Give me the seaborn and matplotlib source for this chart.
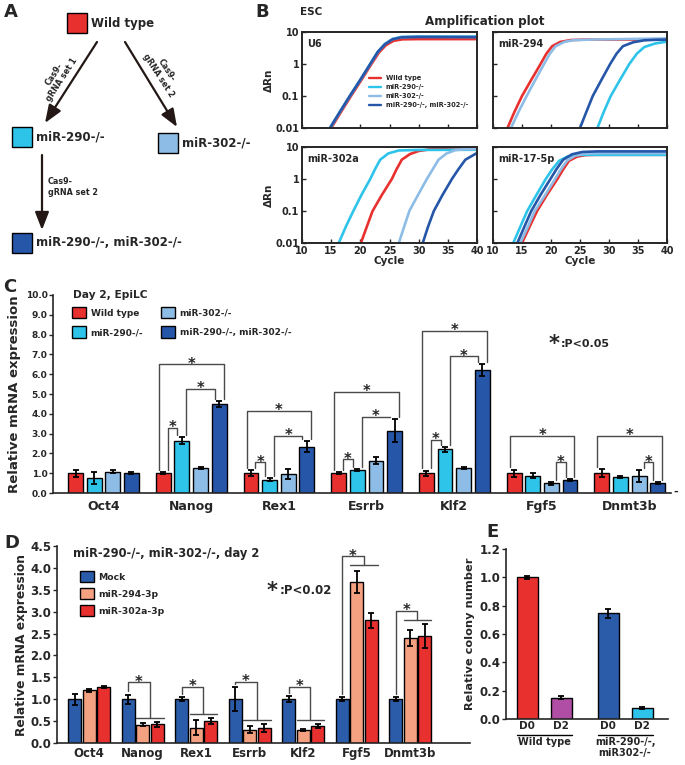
import numpy as np
import pandas as pd
import matplotlib
matplotlib.use("Agg")
import matplotlib.pyplot as plt
import matplotlib.transforms as mtransforms
from matplotlib.patches import Rectangle
from matplotlib.lines import Line2D
import seaborn as sns

sns.set_style("ticks")
plt.rcParams["font.family"] = ["DejaVu Sans"]
plt.rcParams["font.weight"] = "bold"
plt.rcParams["axes.labelweight"] = "bold"

W, H = 685, 765

# ---------------- data ----------------
genotypes = ["Wild type", "miR-290-/-", "miR-302-/-", "miR-290-/-, miR-302-/-"]
geno_colors = ["#e8312f", "#2ec4ea", "#8dbde6", "#2556a8"]

# B: amplification curves, (cycle, delta Rn); order = genotypes
amp_targets = ["U6", "miR-294", "miR-302a", "miR-17-5p"]
u6_cycles = [
    [15.0, 16.7, 18.4, 20.2, 21.9, 23.2, 24.4, 25.7, 27.2, 30.0, 40.0],
    [14.8, 16.5, 18.2, 20.0, 21.7, 23.0, 24.2, 25.5, 27.0, 30.0, 40.0],
    [14.8, 16.5, 18.2, 20.0, 21.7, 23.0, 24.2, 25.5, 27.0, 30.0, 40.0],
    [14.8, 16.5, 18.2, 20.0, 21.7, 23.0, 24.2, 25.5, 27.0, 30.0, 40.0],
]
u6_drn = [
    [0.01, 0.032, 0.1, 0.32, 1.0, 2.3, 3.9, 5.3, 5.9, 6.0, 6.0],
    [0.01, 0.032, 0.1, 0.32, 1.0, 2.4, 4.2, 6.0, 7.0, 7.3, 7.2],
    [0.01, 0.032, 0.1, 0.32, 1.0, 2.4, 4.2, 6.0, 6.9, 7.1, 7.0],
    [0.01, 0.032, 0.1, 0.32, 1.0, 2.4, 4.1, 5.9, 6.8, 7.0, 6.9],
]
m294_cycles = [
    [12.5, 13.7, 15.0, 16.6, 18.2, 19.2, 20.2, 21.6, 23.4, 26.0, 40.0],
    [28.0, 29.1, 30.3, 31.9, 33.5, 34.8, 36.1, 38.0, 40.0],
    [13.1, 14.4, 15.8, 17.3, 18.8, 19.8, 20.8, 22.3, 24.0, 27.0, 40.0],
    [25.0, 26.1, 27.2, 28.7, 30.2, 31.3, 32.4, 34.2, 36.1, 38.0, 40.0],
]
m294_drn = [
    [0.01, 0.032, 0.1, 0.32, 1.0, 2.1, 3.6, 4.9, 5.6, 5.8, 5.8],
    [0.01, 0.032, 0.1, 0.32, 1.0, 2.1, 3.4, 4.4, 5.0],
    [0.01, 0.032, 0.1, 0.32, 1.0, 2.1, 3.6, 4.9, 5.6, 5.8, 6.3],
    [0.01, 0.032, 0.1, 0.32, 1.0, 2.1, 3.6, 4.8, 5.5, 5.7, 5.8],
]
m302a_cycles = [
    [20.1, 21.1, 22.1, 23.7, 25.4, 26.2, 27.1, 28.5, 30.0, 33.4, 36.0, 40.0],
    [16.3, 17.5, 18.8, 20.2, 21.7, 22.5, 23.4, 24.8, 26.6, 30.0, 40.0],
    [26.6, 27.5, 28.4, 29.9, 31.4, 32.4, 33.4, 34.8, 36.3, 38.0, 40.0],
    [30.7, 31.6, 32.6, 34.1, 35.7, 36.8, 38.0, 40.0],
]
m302a_drn = [
    [0.01, 0.032, 0.1, 0.32, 1.0, 2.0, 4.0, 6.0, 7.5, 9.3, 9.7, 9.8],
    [0.01, 0.032, 0.1, 0.32, 1.0, 2.0, 4.0, 6.3, 7.8, 8.1, 8.2],
    [0.01, 0.032, 0.1, 0.32, 1.0, 2.0, 4.0, 6.3, 8.0, 8.5, 8.6],
    [0.01, 0.032, 0.1, 0.32, 1.0, 2.0, 4.0, 6.5],
]
m175p_cycles = [
    [15.0, 16.3, 17.6, 19.3, 21.1, 22.1, 23.1, 24.5, 26.0, 28.0, 40.0],
    [13.5, 14.7, 15.9, 17.5, 19.1, 20.2, 21.4, 22.8, 24.3, 26.0, 40.0],
    [14.7, 16.0, 17.2, 19.0, 20.7, 21.7, 22.8, 24.2, 25.8, 28.0, 40.0],
    [14.2, 15.4, 16.6, 18.2, 19.9, 21.0, 22.1, 23.6, 25.4, 28.0, 40.0],
]
m175p_drn = [
    [0.01, 0.032, 0.1, 0.32, 1.0, 2.0, 3.7, 5.0, 5.6, 5.7, 5.7],
    [0.01, 0.032, 0.1, 0.32, 1.0, 2.0, 3.7, 5.0, 5.6, 5.7, 5.7],
    [0.01, 0.032, 0.1, 0.32, 1.0, 2.0, 3.8, 5.4, 6.2, 6.4, 6.4],
    [0.01, 0.032, 0.1, 0.32, 1.0, 2.1, 4.0, 5.9, 7.0, 7.3, 7.3],
]

# C: day 2 EpiLC relative expression
c_genes = ["Oct4", "Nanog", "Rex1", "Esrrb", "Klf2", "Fgf5", "Dnmt3b"]
c_wt = [1.0, 1.0, 1.0, 1.0, 1.0, 1.0, 1.0]
c_290 = [0.75, 2.65, 0.68, 1.15, 2.2, 0.88, 0.8]
c_302 = [1.08, 1.28, 0.98, 1.62, 1.25, 0.48, 0.85]
c_dko = [1.0, 4.5, 2.33, 3.15, 6.2, 0.65, 0.5]
c_wt_err = [0.17, 0.06, 0.15, 0.06, 0.13, 0.18, 0.2]
c_290_err = [0.3, 0.18, 0.08, 0.06, 0.12, 0.12, 0.05]
c_302_err = [0.08, 0.05, 0.25, 0.18, 0.06, 0.06, 0.3]
c_dko_err = [0.06, 0.15, 0.28, 0.58, 0.3, 0.06, 0.05]
# (gene index, genotype a, genotype b, bracket height)
c_brackets = [(1, 0, 1, 3.3), (1, 1, 3, 5.25), (1, 0, 3, 6.5),
              (2, 0, 1, 1.55), (2, 1, 3, 2.9), (2, 0, 3, 4.15),
              (3, 0, 1, 1.7), (3, 1, 3, 3.85), (3, 0, 3, 5.1),
              (4, 0, 1, 2.7), (4, 1, 3, 6.9), (4, 0, 3, 8.2),
              (5, 2, 3, 1.55), (5, 0, 3, 2.9),
              (6, 2, 3, 1.55), (6, 0, 3, 2.9)]

# D: rescue with miRNA mimics
treatments = ["Mock", "miR-294-3p", "miR-302a-3p"]
treat_colors = ["#2a5caa", "#f4a182", "#e8312f"]
d_genes = ["Oct4", "Nanog", "Rex1", "Esrrb", "Klf2", "Fgf5", "Dnmt3b"]
d_mock = [1.0, 1.0, 1.0, 1.0, 1.0, 1.0, 1.0]
d_294 = [1.2, 0.42, 0.35, 0.3, 0.3, 3.67, 2.4]
d_302a = [1.28, 0.43, 0.5, 0.35, 0.39, 2.8, 2.45]
d_mock_err = [0.13, 0.1, 0.05, 0.27, 0.07, 0.04, 0.05]
d_294_err = [0.03, 0.04, 0.17, 0.08, 0.03, 0.25, 0.18]
d_302a_err = [0.03, 0.06, 0.07, 0.09, 0.05, 0.18, 0.27]
# (gene index, upper bracket height, lower bar height)
d_brackets = [(1, 1.39, 0.58), (2, 1.29, 0.66), (3, 1.40, 0.53), (4, 1.29, 0.53),
              (5, 4.27, 4.06), (6, 3.02, 2.81)]

# E: colony formation
e_samples = ["WT D0", "WT D2", "DKO D0", "DKO D2"]
e_ticklabels = ["D0", "D2", "D0", "D2"]
e_pos = [0.0, 1.0, 2.38, 3.38]
e_values = [1.0, 0.15, 0.745, 0.078]
e_err = [0.012, 0.01, 0.035, 0.01]
e_colors = ["#e8312f", "#b04ea6", "#2a5caa", "#2ec4ea"]
e_groups = ["Wild type", "miR-290-/-,\nmiR302-/-"]

# ---------------- figure ----------------
fig = plt.figure(figsize=(W / 100, H / 100), dpi=100)


def px_axes(l, t, r, b):
    return fig.add_axes([l / W, 1 - b / H, (r - l) / W, (b - t) / H])


def ftext(x, y, s, **kw):
    return fig.text(x / W, 1 - y / H, s, **kw)


for lab, x, y in [("A", 4, 12), ("B", 255, 12), ("C", 3, 287), ("D", 4, 543), ("E", 486, 532)]:
    ftext(x, y, lab, fontsize=13, fontweight="bold", va="center", ha="left")

# ---- A: scheme ----
axA = px_axes(0, 0, 230, 275)
axA.set_xlim(0, 230)
axA.set_ylim(275, 0)
axA.axis("off")
nodes = [(67, 13), (12, 127), (158, 133), (12, 233)]
for (x, y), c, lab in zip(nodes, geno_colors, genotypes):
    axA.add_patch(Rectangle((x, y), 20, 20, fc=c, ec="black", lw=1))
    axA.text(x + 24, y + 10, lab, va="center", ha="left", fontsize=8.5, fontweight="bold")
akw = dict(arrowstyle="-|>,head_length=0.9,head_width=0.35", color="#231815", lw=1.6,
           mutation_scale=12, shrinkA=0, shrinkB=0)
axA.annotate("", xy=(45, 123), xytext=(97, 42), arrowprops=akw)
axA.annotate("", xy=(177, 127), xytext=(125, 42), arrowprops=akw)
axA.annotate("", xy=(42, 230), xytext=(42, 155), arrowprops=akw)
axA.text(58, 77, "Cas9-\ngRNA set 1", rotation=57, ha="center", va="center",
         fontsize=5.8, rotation_mode="anchor", linespacing=1.1)
axA.text(162, 73, "Cas9-\ngRNA set 2", rotation=-57, ha="center", va="center",
         fontsize=5.8, rotation_mode="anchor", linespacing=1.1)
axA.text(48, 187, "Cas9-\ngRNA set 2", ha="left", va="center", fontsize=5.8, linespacing=1.3)

# ---- B: amplification plots ----
rows = []
for target, cyc_sets, drn_sets in zip(amp_targets,
                                      [u6_cycles, m294_cycles, m302a_cycles, m175p_cycles],
                                      [u6_drn, m294_drn, m302a_drn, m175p_drn]):
    for g, cyc, drn in zip(genotypes, cyc_sets, drn_sets):
        for ci, di in zip(cyc, drn):
            rows.append((target, g, ci, di))
amp_df = pd.DataFrame(rows, columns=["target", "genotype", "cycle", "drn"])

ftext(300, 12, "ESC", fontsize=7.5, va="center", ha="left")
ftext(485, 22, "Amplification plot", fontsize=8.6, va="center", ha="center")
b_boxes = [(302, 32, 477, 128), (493, 32, 667, 128), (302, 147, 477, 243), (493, 147, 667, 243)]
for k, (target, box) in enumerate(zip(amp_targets, b_boxes)):
    ax = px_axes(*box)
    sub = amp_df[amp_df["target"] == target]
    sns.lineplot(data=sub, x="cycle", y="drn", hue="genotype", hue_order=genotypes,
                 palette=geno_colors, estimator=None, sort=False, lw=1.9, legend=False, ax=ax)
    ax.set_yscale("log")
    ax.set_xlim(10, 40)
    ax.set_ylim(0.01, 10)
    ax.minorticks_off()
    ax.set_xticks(range(10, 41, 5))
    ax.set_yticks([0.01, 0.1, 1, 10])
    ax.set_xticklabels([str(v) for v in range(10, 41, 5)] if k >= 2 else [])
    ax.set_yticklabels(["0.01", "0.1", "1", "10"] if k % 2 == 0 else [])
    ax.tick_params(direction="in", length=3, width=1, labelsize=7, pad=2)
    for s in ax.spines.values():
        s.set_linewidth(1.4)
    ax.set_xlabel("Cycle" if k >= 2 else "", fontsize=7.5, labelpad=0)
    ax.set_ylabel("\u0394Rn" if k % 2 == 0 else "", fontsize=7.5, labelpad=1)
    ax.text(0.03, 0.93, target, transform=ax.transAxes, va="top", ha="left", fontsize=7)
    if k == 0:
        handles = [Line2D([], [], color=c, lw=1.7) for c in geno_colors]
        ax.legend(handles, genotypes, loc="upper left", bbox_to_anchor=(0.38, 0.55),
                  frameon=False, fontsize=4.8, handlelength=1.8, handletextpad=0.8,
                  labelspacing=0.45, borderpad=0, borderaxespad=0)

# ---- C: EpiLC expression ----
c_vals = [c_wt, c_290, c_302, c_dko]
c_errs = [c_wt_err, c_290_err, c_302_err, c_dko_err]
c_df = pd.DataFrame({
    "gene": np.tile(c_genes, len(genotypes)),
    "genotype": np.repeat(genotypes, len(c_genes)),
    "value": np.concatenate(c_vals),
    "err": np.concatenate(c_errs),
})
axC = px_axes(53, 295, 671, 493)
sns.barplot(data=c_df, x="gene", y="value", hue="genotype", order=c_genes, hue_order=genotypes,
            palette=geno_colors, saturation=1, width=0.85, gap=0.2, edgecolor="black",
            linewidth=1, errorbar=None, legend=False, ax=axC)
cx = np.array([p.get_x() + p.get_width() / 2 for p in axC.patches]).reshape(4, -1)
ctop = np.array([p.get_height() for p in axC.patches]).reshape(4, -1)
cbw = axC.patches[0].get_width()
axC.errorbar(cx.ravel(), ctop.ravel(), yerr=c_df["err"], fmt="none", ecolor="black",
             elinewidth=1.3, capsize=2.3, capthick=1.3, zorder=3)
axC.set_xlim(-0.576, 6.47)
axC.set_ylim(0, 10)
axC.set_yticks(np.arange(0, 10.01, 1.0))
axC.set_yticklabels([f"{v:.1f}" for v in np.arange(0, 10.01, 1.0)])
axC.tick_params(axis="y", length=3, width=1, labelsize=6.5, pad=1)
axC.tick_params(axis="x", length=0, labelsize=9, pad=5)
axC.set_xlabel("")
axC.set_ylabel("Relative mRNA expression", fontsize=9.5, labelpad=3)
sns.despine(ax=axC)
for s in axC.spines.values():
    s.set_linewidth(1.2)

for g, a, b, y in c_brackets:
    outer = (a == 0 and b == 3)
    x1 = cx[a, g] + (-0.3 if outer else 0.3) * cbw
    x2 = cx[b, g] + (0.3 if outer else -0.3) * cbw
    y1 = ctop[a, g] + c_errs[a][g] + 0.12
    y2 = ctop[b, g] + c_errs[b][g] + 0.12
    axC.plot([x1, x1, x2, x2], [y1, y, y, y2], color="#4a4a4a", lw=1, zorder=4)
    axC.annotate("*", xy=((x1 + x2) / 2, y), xytext=(0, -3.2), textcoords="offset points",
                 ha="center", va="baseline", fontsize=10.5, fontweight="bold")

cleg = [Rectangle((0, 0), 1, 1, fc=c, ec="black", lw=1) for c in geno_colors]
axC.legend(cleg, genotypes, ncol=2, loc="upper left", bbox_to_anchor=(72 / W, 1 - 307 / H),
           bbox_transform=fig.transFigure, frameon=False, fontsize=6.5, handlelength=1.55,
           handleheight=1.55, handletextpad=0.5, labelspacing=0.9, columnspacing=2.0,
           borderpad=0, borderaxespad=0)
ftext(73, 295, "Day 2, EpiLC", fontsize=7.7, va="center", ha="left")
ftext(554, 344, "*", fontsize=15, va="center", ha="center")
ftext(561, 344, ":P<0.05", fontsize=8, va="center", ha="left")
ftext(676, 492, "-", fontsize=8, va="center", ha="center")

# ---- D: miRNA rescue ----
d_vals = [d_mock, d_294, d_302a]
d_errs = [d_mock_err, d_294_err, d_302a_err]
d_df = pd.DataFrame({
    "gene": np.tile(d_genes, len(treatments)),
    "treatment": np.repeat(treatments, len(d_genes)),
    "value": np.concatenate(d_vals),
    "err": np.concatenate(d_errs),
})
axD = px_axes(57, 546, 470, 743)
sns.barplot(data=d_df, x="gene", y="value", hue="treatment", order=d_genes, hue_order=treatments,
            palette=treat_colors, saturation=1, width=0.81, gap=0.1, edgecolor="black",
            linewidth=1, errorbar=None, legend=False, ax=axD)
dx = np.array([p.get_x() + p.get_width() / 2 for p in axD.patches]).reshape(3, -1)
dtop = np.array([p.get_height() for p in axD.patches]).reshape(3, -1)
dbw = axD.patches[0].get_width()
axD.errorbar(dx.ravel(), dtop.ravel(), yerr=d_df["err"], fmt="none", ecolor="black",
             elinewidth=1.3, capsize=2.3, capthick=1.3, zorder=3)
axD.set_xlim(-0.6, 7.12)
axD.set_ylim(0, 4.5)
axD.set_yticks(np.arange(0, 4.51, 0.5))
axD.set_yticklabels([f"{v:.1f}" for v in np.arange(0, 4.51, 0.5)])
axD.tick_params(axis="y", length=3, width=1, labelsize=8.5, pad=1)
axD.tick_params(axis="x", length=0, labelsize=8.5, pad=3)
axD.set_xlabel("")
axD.set_ylabel("Relative mRNA expression", fontsize=8.8, labelpad=2)
sns.despine(ax=axD)
for s in axD.spines.values():
    s.set_linewidth(1.2)

for g, top, low in d_brackets:
    xm = dx[0, g]
    xmid = (dx[1, g] + dx[2, g]) / 2
    ym = dtop[0, g] + d_errs[0][g] + 0.08
    axD.plot([xm, xm, xmid, xmid], [ym, top, top, low], color="#4a4a4a", lw=1, zorder=4)
    axD.plot([dx[1, g] - dbw / 2, dx[2, g] + dbw / 2], [low, low], color="#4a4a4a", lw=1, zorder=4)
    axD.annotate("*", xy=((xm + xmid) / 2, top), xytext=(0, -3.2), textcoords="offset points",
                 ha="center", va="baseline", fontsize=10.5, fontweight="bold")

dleg = [Rectangle((0, 0), 1, 1, fc=c, ec="black", lw=1) for c in treat_colors]
axD.legend(dleg, treatments, loc="upper left", bbox_to_anchor=(80 / W, 1 - 571 / H),
           bbox_transform=fig.transFigure, frameon=False, fontsize=6.7, handlelength=1.5,
           handleheight=1.5, handletextpad=0.5, labelspacing=0.6, borderpad=0, borderaxespad=0)
ftext(73, 553, "miR-290-/-, miR-302-/-, day 2", fontsize=8.3, va="center", ha="left")
ftext(272, 591, "*", fontsize=15, va="center", ha="center")
ftext(280, 591, ":P<0.02", fontsize=8.5, va="center", ha="left")

# ---- E: colony number ----
e_df = pd.DataFrame({"pos": e_pos, "sample": e_samples, "value": e_values, "err": e_err})
axE = px_axes(506, 549, 668, 719)
sns.barplot(data=e_df, x="pos", y="value", hue="sample", hue_order=e_samples, palette=e_colors,
            native_scale=True, dodge=False, width=0.62, saturation=1, edgecolor="black",
            linewidth=1, errorbar=None, legend=False, ax=axE)
axE.errorbar(e_df["pos"], e_df["value"], yerr=e_df["err"], fmt="none", ecolor="black",
             elinewidth=1.3, capsize=2.3, capthick=1.3, zorder=3)
axE.set_xlim(-0.62, 4.14)
axE.set_ylim(0, 1.2)
axE.set_xticks(e_pos)
axE.set_xticklabels(e_ticklabels)
axE.set_yticks(np.arange(0, 1.21, 0.2))
axE.set_yticklabels([f"{v:.1f}" for v in np.arange(0, 1.21, 0.2)])
axE.tick_params(axis="y", length=3, width=1, labelsize=8.5, pad=1)
axE.tick_params(axis="x", length=0, labelsize=7.5, pad=1.5)
axE.set_xlabel("")
axE.set_ylabel("Relative colony number", fontsize=8.2, labelpad=3)
sns.despine(ax=axE)
for s in axE.spines.values():
    s.set_linewidth(1.2)
trE = mtransforms.blended_transform_factory(axE.transData, axE.transAxes)
half = 0.62 / 2
for i, lab in enumerate(e_groups):
    xa, xb = e_pos[2 * i] - half, e_pos[2 * i + 1] + half
    axE.plot([xa, xb], [-0.094, -0.094], color="black", lw=1, transform=trE, clip_on=False)
    axE.text((xa + xb) / 2, -0.105, lab, transform=trE, ha="center", va="top",
             fontsize=7, linespacing=1.1)

fig.savefig("out.png", dpi=100)
